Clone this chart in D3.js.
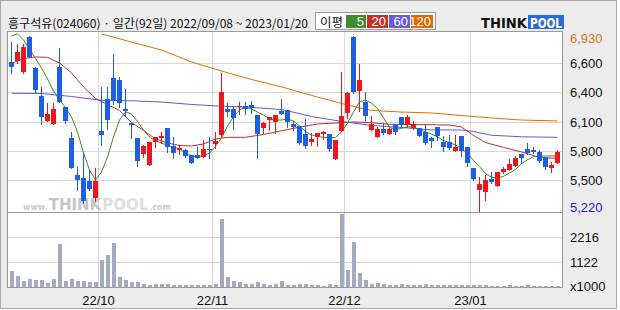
<!DOCTYPE html>
<html>
<head>
<meta charset="utf-8">
<script src="https://cdn.jsdelivr.net/npm/d3@7"></script>
<style>
  html, body { margin: 0; padding: 0; background: #fff; }
  svg { display: block; }
</style>
</head>
<body>
<div id="chart"></div>
<script>
// 흥구석유(024060) daily candles, 2022/09/08 ~ 2023/01/20
var stockName = "흥구석유(024060)";

var dates = [
  "2022/09/08","2022/09/13","2022/09/14","2022/09/15","2022/09/16","2022/09/19","2022/09/20","2022/09/21",
  "2022/09/22","2022/09/23","2022/09/26","2022/09/27","2022/09/28","2022/09/29","2022/09/30",
  "2022/10/04","2022/10/05","2022/10/06","2022/10/07","2022/10/11","2022/10/12","2022/10/13","2022/10/14",
  "2022/10/17","2022/10/18","2022/10/19","2022/10/20","2022/10/21","2022/10/24","2022/10/25","2022/10/26",
  "2022/10/27","2022/10/28","2022/10/31",
  "2022/11/01","2022/11/02","2022/11/03","2022/11/04","2022/11/07","2022/11/08","2022/11/09","2022/11/10",
  "2022/11/11","2022/11/14","2022/11/15","2022/11/16","2022/11/17","2022/11/18","2022/11/21","2022/11/22",
  "2022/11/23","2022/11/24","2022/11/25","2022/11/28","2022/11/29","2022/11/30",
  "2022/12/01","2022/12/02","2022/12/05","2022/12/06","2022/12/07","2022/12/08","2022/12/09","2022/12/12",
  "2022/12/13","2022/12/14","2022/12/15","2022/12/16","2022/12/19","2022/12/20","2022/12/21","2022/12/22",
  "2022/12/23","2022/12/26","2022/12/27","2022/12/28","2022/12/29",
  "2023/01/02","2023/01/03","2023/01/04","2023/01/05","2023/01/06","2023/01/09","2023/01/10","2023/01/11",
  "2023/01/12","2023/01/13","2023/01/16","2023/01/17","2023/01/18","2023/01/19","2023/01/20"
];

var opens = [6679,6689,6575,6923,6614,6344,6103,6067,6630,6233,
  5930,5572,5546,5513,5344,6002,6312,6517,6500,6214,
  6083,5930,5777,5670,5891,5930,6028,5855,5816,5816,
  5767,5767,5748,5826,5875,5963,6214,6214,6240,6246,
  6256,6158,6028,6109,6093,6197,6207,6070,6051,5973,
  5897,5940,5973,5970,5728,6005,6181,6923,6393,6288,
  6012,5946,6021,5970,6067,6136,6060,6028,6034,5989,
  5937,6038,5897,5891,5810,5953,5849,5643,5425,5409,
  5533,5467,5604,5621,5660,5777,5826,5816,5800,5745,
  5643,5693];

var highs = [6874,6852,6852,6930,6624,6435,6272,6278,6810,6233,
  5995,5653,5794,5621,5643,6435,6429,6754,6532,6409,
  6083,5930,5865,5897,5946,5995,6028,5946,5865,5826,
  5767,5849,5914,5946,5995,6566,6278,6246,6288,6288,
  6298,6158,6093,6136,6158,6312,6207,6103,6051,6116,
  5979,5985,6002,5970,5914,6581,6386,6930,6656,6386,
  6148,6044,6077,6028,6067,6136,6158,6099,6034,6067,
  5946,6044,5953,5963,5963,5953,5849,5643,5555,5572,
  5604,5598,5653,5728,5758,5777,5888,5849,5816,5751,
  5702,5816];

var lows = [6566,6663,6566,6722,6370,6067,6103,6067,6288,6083,
  5643,5425,5295,5425,5318,5865,6021,6270,6239,6148,
  5930,5663,5751,5670,5843,5888,5800,5735,5777,5745,
  5686,5735,5748,5735,5833,5953,6148,6021,6168,6168,
  6181,5741,5979,6012,5979,6168,6038,6012,5872,5833,
  5865,5855,5924,5810,5728,6005,6126,6376,6200,6109,
  6012,5946,5973,5970,5973,6044,6044,6018,5956,5872,
  5849,5914,5810,5823,5810,5758,5660,5523,5220,5328,
  5491,5467,5594,5621,5660,5686,5777,5790,5702,5627,
  5604,5686];

var closes = [6630,6777,6825,6722,6402,6136,6168,6217,6288,6103,
  5643,5523,5321,5435,5513,5966,6109,6295,6278,6200,
  6060,5711,5855,5897,5946,5953,5849,5790,5833,5758,
  5686,5735,5826,5816,5904,6386,6191,6126,6250,6217,
  6230,5973,6077,6136,6158,6168,6093,6044,5888,5855,
  5921,5979,5989,5823,5914,6148,6370,6386,6500,6148,
  6070,6021,5985,6021,5995,6060,6136,6067,5956,5882,
  5907,5953,5849,5833,5849,5810,5693,5530,5484,5523,
  5507,5598,5630,5679,5735,5735,5784,5800,5711,5653,
  5670,5800];

// volume in thousands of shares
var volumes = [714,490,268,357,312,312,178,357,1918,268,
  357,268,268,223,223,1204,1427,1962,446,312,
  223,223,134,89,134,134,134,89,89,89,
  89,89,89,89,134,3033,446,268,223,134,
  134,223,134,89,134,268,89,89,134,134,
  89,89,45,134,89,3256,758,2007,638,312,
  134,178,134,89,89,134,89,89,89,134,
  89,89,89,89,89,89,89,89,89,89,
  45,45,45,89,45,45,89,45,45,45,
  45,45];

// moving averages (day index, value)
var ma5 = [6930,6950,6891,6803,6710,6617,6510,6393,6305,6231,
  6139,5993,5787,5621,5523,5601,5748,5943,6109,6190,
  6168,6095,6012,5943,5904,5885,5860,5846,5826,5782,
  5758,5748,5763,5784,5850,5933,6051,6139,6207,6236,
  6217,6187,6158,6119,6109,6109,6119,6100,6051,5997,
  5963,5948,5940,5938,5938,5992,6080,6187,6285,6305,
  6272,6222,6129,6036,6018,6028,6041,6041,6016,5992,
  5973,5943,5909,5888,5865,5831,5782,5714,5653,5587,
  5550,5543,5559,5592,5626,5680,5721,5751,5756,5758,
  5758,5758];

var ma20Days = [0,2,4,6,8,10,12,14,16,18,20,22,24,26,28,30,32,34,36,39,42,45,48,51,54,57,60,63,70,73,75,77,79,82,85,88,91];
var ma20 = [6663,6710,6725,6722,6666,6569,6432,6319,6261,6202,6085,6007,5924,5885,5860,5855,5875,5924,5940,5940,
  5968,6004,6039,6070,6080,6090,6083,6067,6063,6060,6041,5958,5889,5841,5797,5743,5735];

var ma60Days = [0,5,10,15,20,25,30,35,40,45,50,55,60,65,70,75,77,80,85,91];
var ma60 = [6370,6368,6339,6302,6297,6285,6261,6244,6232,6212,6144,6095,6056,6036,6012,6012,5997,5960,5945,5940];

var ma120Days = [15,20,25,30,35,40,45,50,55,58,60,65,70,75,80,85,91];
var ma120 = [6950,6871,6793,6676,6588,6505,6433,6349,6271,6227,6203,6187,6178,6153,6129,6109,6100];

var maPeriods = ["5", "20", "60", "120"];

var priceMin = 5220, priceMax = 6930;
var priceGrid = [6663, 6380, 6090, 5803, 5520];
var priceLabels = ["6,600", "6,400", "6,100", "5,800", "5,500"];
var volumeGrid = [1122, 2216];

var
  WIDTH = 620,
  HEIGHT = 310,
  PLOT_LEFT = 7,
  PLOT_RIGHT = 562,
  PRICE_TOP = 31,
  PRICE_BOTTOM = 212,
  VOLUME_BOTTOM = 287,
  UP_COLOR = "#f0151c",
  DOWN_COLOR = "#1e5ee0",
  VOLUME_COLOR = "#a3abc2",
  GRID_COLOR = "#d7d7d7",
  FRAME_COLOR = "#9a9a9a",
  PANEL_COLOR = "#ececec",
  MA_COLORS = ["#3f8c22", "#b9322a", "#6656d8", "#e07000"],
  LEGEND_COLORS = ["#3f8e2a", "#c4302a", "#6a5cd6", "#e06c00"],
  LABEL_FONT = "'Liberation Sans', Arial, sans-serif",
  KOREAN_FONT = "'Noto Sans CJK KR', 'Noto Sans', sans-serif";

var svg = d3.select("#chart").append("svg")
  .attr("width", WIDTH)
  .attr("height", HEIGHT);

var x = d3.scaleBand().domain(dates).range([8, 560]);
var y = d3.scaleLinear().domain([priceMin, priceMax]).range([211, 36]);
var yVol = d3.scaleLinear().domain([0, volumeGrid[1]]).range([VOLUME_BOTTOM, 237.3]);

function center(i){ return x(dates[i]) + 3.5; }

// frame, header and axis panel
svg.append("rect").attr("x", 0.5).attr("y", 0.5).attr("width", 616).attr("height", 308)
  .attr("fill", PANEL_COLOR).attr("stroke", "#a8a8a8");
svg.append("rect").attr("x", PLOT_LEFT).attr("y", PRICE_TOP)
  .attr("width", PLOT_RIGHT - PLOT_LEFT).attr("height", VOLUME_BOTTOM - PRICE_TOP)
  .attr("fill", "#fff");

// month boundaries
var monthStarts = [];
dates.forEach(function(d, i){
  if (i > 0 && d.slice(5, 7) !== dates[i - 1].slice(5, 7)) monthStarts.push(i);
});

var grid = svg.append("g").attr("stroke", GRID_COLOR).attr("shape-rendering", "crispEdges");
priceGrid.forEach(function(v){
  grid.append("line").attr("x1", PLOT_LEFT).attr("x2", PLOT_RIGHT)
    .attr("y1", Math.round(y(v)) + 0.5).attr("y2", Math.round(y(v)) + 0.5);
});
volumeGrid.forEach(function(v){
  grid.append("line").attr("x1", PLOT_LEFT).attr("x2", PLOT_RIGHT)
    .attr("y1", Math.round(yVol(v)) + 0.5).attr("y2", Math.round(yVol(v)) + 0.5);
});
monthStarts.forEach(function(i){
  grid.append("line").attr("x1", x(dates[i]) + 0.5).attr("x2", x(dates[i]) + 0.5)
    .attr("y1", PRICE_TOP).attr("y2", VOLUME_BOTTOM);
});

// watermark: pieces placed one after another by their measured width
var mark = svg.append("g").style("font-family", "'DejaVu Sans', sans-serif").attr("font-weight", "bold");
var markX = 23;
[["www.", 8, "#cccccc"], ["THINK", 15, "#c6c6c6"], ["POOL", 15, "#dedede"], [".com", 8, "#cccccc"]]
  .forEach(function(p){
    var t = mark.append("text").attr("x", markX).attr("y", 210)
      .attr("font-size", p[1]).attr("fill", p[2]).text(p[0]);
    markX += t.node().getComputedTextLength() + 1;
  });

// volume bars
svg.append("g").attr("shape-rendering", "crispEdges").selectAll("rect")
  .data(volumes).enter().append("rect")
  .attr("x", function(v, i){ return x(dates[i]) + 1.5; })
  .attr("width", 4)
  .attr("y", function(v){ return Math.round(yVol(v)); })
  .attr("height", function(v){ return VOLUME_BOTTOM - Math.round(yVol(v)); })
  .attr("fill", VOLUME_COLOR);

// moving averages
svg.append("clipPath").attr("id", "price-clip").append("rect")
  .attr("x", PLOT_LEFT).attr("y", PRICE_TOP).attr("width", PLOT_RIGHT - PLOT_LEFT).attr("height", PRICE_BOTTOM - PRICE_TOP);

var maLayer = svg.append("g").attr("clip-path", "url(#price-clip)");
function drawAverage(days, values, color){
  var line = d3.line()
    .x(function(v, k){ return center(days[k]); })
    .y(function(v){ return y(v); });
  maLayer.append("path").attr("d", line(values))
    .attr("fill", "none").attr("stroke", color).attr("stroke-width", 1);
}
drawAverage(ma120Days, ma120, MA_COLORS[3]);
drawAverage(ma60Days, ma60, MA_COLORS[2]);
drawAverage(ma20Days, ma20, MA_COLORS[1]);
drawAverage(d3.range(ma5.length), ma5, MA_COLORS[0]);

// candles
var candles = svg.append("g").attr("shape-rendering", "crispEdges");
dates.forEach(function(d, i){
  var up = closes[i] >= opens[i],
    color = up ? UP_COLOR : DOWN_COLOR,
    top = Math.round(y(Math.max(opens[i], closes[i]))),
    bottom = Math.round(y(Math.min(opens[i], closes[i])));
  candles.append("line")
    .attr("x1", center(i)).attr("x2", center(i))
    .attr("y1", Math.round(y(highs[i]))).attr("y2", Math.round(y(lows[i])) + 1)
    .attr("stroke", color);
  candles.append("rect")
    .attr("x", x(d) + 1).attr("width", 5)
    .attr("y", top).attr("height", Math.max(1, bottom - top))
    .attr("fill", color);
});

// plot borders
var frame = svg.append("g").attr("fill", "none").attr("stroke", FRAME_COLOR).attr("shape-rendering", "crispEdges");
frame.append("rect").attr("x", PLOT_LEFT + 0.5).attr("y", PRICE_TOP + 0.5)
  .attr("width", PLOT_RIGHT - PLOT_LEFT).attr("height", VOLUME_BOTTOM - PRICE_TOP);
frame.append("line").attr("x1", PLOT_LEFT).attr("x2", PLOT_RIGHT)
  .attr("y1", PRICE_BOTTOM + 0.5).attr("y2", PRICE_BOTTOM + 0.5);

// right axis labels
var axis = svg.append("g").style("font-family", LABEL_FONT).attr("font-size", 13);
priceGrid.forEach(function(v, k){
  axis.append("text").attr("x", 570).attr("y", y(v)).attr("dy", "0.36em")
    .attr("fill", "#111").text(priceLabels[k]);
});
axis.append("text").attr("x", 570).attr("y", y(priceMax) + 2).attr("dy", "0.36em")
  .attr("fill", "#d8761a").text(d3.format(",")(priceMax));
axis.append("text").attr("x", 570).attr("y", y(priceMin) - 4).attr("dy", "0.36em")
  .attr("fill", "#1a22c8").text(d3.format(",")(priceMin));
volumeGrid.forEach(function(v){
  axis.append("text").attr("x", 570).attr("y", yVol(v)).attr("dy", "0.36em")
    .attr("fill", "#111").text(v);
});
axis.append("text").attr("x", 570).attr("y", VOLUME_BOTTOM - 1).attr("dy", "0.36em")
  .attr("fill", "#111").text("x1000");

// month labels
monthStarts.forEach(function(i){
  axis.append("text").attr("x", x(dates[i]) + 0.5).attr("y", 305)
    .attr("text-anchor", "middle").attr("fill", "#111")
    .text(dates[i].slice(2, 4) + "/" + dates[i].slice(5, 7));
});

// title
svg.append("text").attr("x", 8).attr("y", 28)
  .style("font-family", KOREAN_FONT).attr("font-size", 12).attr("fill", "#111")
  .attr("textLength", 300).attr("lengthAdjust", "spacingAndGlyphs")
  .text(stockName + " · 일간(" + dates.length + "일) " + dates[0] + " ~ " + dates[dates.length - 1]);

// legend
var legend = svg.append("g");
legend.append("rect").attr("x", 315.5).attr("y", 12.5).attr("width", 120).attr("height", 17)
  .attr("fill", "#fff").attr("stroke", "#9a9a9a");
legend.append("text").attr("x", 320).attr("y", 26.5)
  .style("font-family", KOREAN_FONT).attr("font-size", 12).attr("fill", "#111")
  .attr("textLength", 23).attr("lengthAdjust", "spacingAndGlyphs").text("이평");
var legendX = [346, 367, 389, 411], legendW = [20, 21, 21, 22];
maPeriods.forEach(function(p, k){
  legend.append("rect").attr("x", legendX[k]).attr("y", 15).attr("width", legendW[k]).attr("height", 13)
    .attr("fill", LEGEND_COLORS[k]);
  legend.append("text").attr("x", legendX[k] + legendW[k] - 2).attr("y", 26)
    .attr("text-anchor", "end").style("font-family", LABEL_FONT).attr("font-size", 13)
    .attr("fill", "#fff").text(p);
});

// logo
var logo = svg.append("g").style("font-family", "'DejaVu Sans', sans-serif").attr("font-weight", "bold");
logo.append("text").attr("x", 481).attr("y", 28).attr("font-size", 14).attr("fill", "#111")
  .attr("textLength", 46).attr("lengthAdjust", "spacingAndGlyphs").text("THINK");
logo.append("rect").attr("x", 528).attr("y", 15).attr("width", 36).attr("height", 14).attr("fill", "#2a6ad8");
logo.append("text").attr("x", 530).attr("y", 28).attr("font-size", 14).attr("fill", "#fff")
  .attr("textLength", 32).attr("lengthAdjust", "spacingAndGlyphs").text("POOL");
</script>
</body>
</html>
